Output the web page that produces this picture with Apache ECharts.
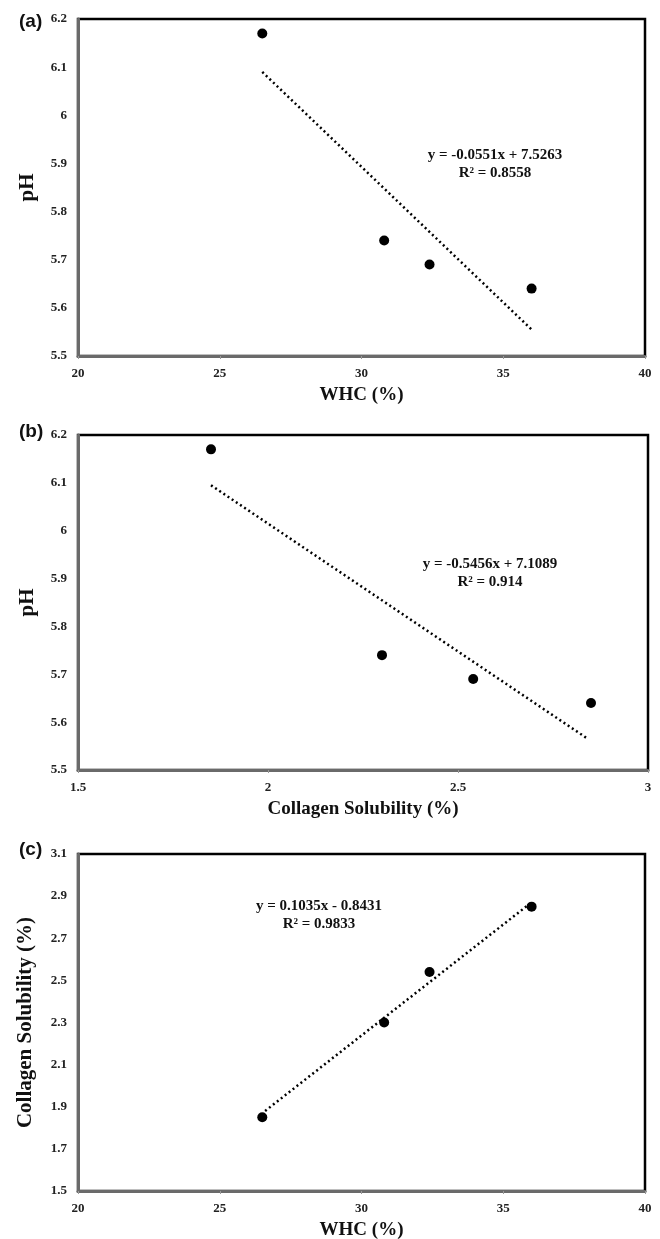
<!DOCTYPE html>
<html>
<head>
<meta charset="utf-8">
<script src="https://cdn.jsdelivr.net/npm/echarts@6/dist/echarts.min.js"></script>
<style>
  html, body { margin: 0; padding: 0; background: #fff; }
  #main { width: 660px; height: 1239px; }
</style>
</head>
<body>
<div id="main"></div>
<script>
// (a) pH vs WHC
const whc = [26.5, 30.8, 32.4, 36.0];
const phA = [6.17, 5.74, 5.69, 5.64];
const trendA = [[26.5, 6.09], [36.0, 5.555]];

// (b) pH vs collagen solubility
const solB = [1.85, 2.30, 2.54, 2.85];
const phB = [6.17, 5.74, 5.69, 5.64];
const trendB = [[1.85, 6.095], [2.84, 5.566]];

// (c) collagen solubility vs WHC
const whcC = [26.5, 30.8, 32.4, 36.0];
const solC = [1.85, 2.30, 2.54, 2.85];
const trendC = [[26.6, 1.88], [35.9, 2.86]];

const eqA = ['y = -0.0551x + 7.5263', 'R² = 0.8558'];
const eqB = ['y = -0.5456x + 7.1089', 'R² = 0.914'];
const eqC = ['y = 0.1035x - 0.8431', 'R² = 0.9833'];

const serif = 'Liberation Serif';
const zip = (xs, ys) => xs.map((x, i) => [x, ys[i]]);

function xAxis(idx, min, max, interval, name) {
  return {
    type: 'value', gridIndex: idx, min, max, interval, name,
    nameLocation: 'middle', nameGap: 30,
    nameTextStyle: { fontFamily: serif, fontWeight: 'bold', fontSize: 19, color: '#111' },
    axisLine: { show: true, lineStyle: { color: '#6a6a6a', width: 3 } },
    axisTick: { show: true, length: 3, lineStyle: { color: '#999' } },
    axisLabel: { fontFamily: serif, fontWeight: 'bold', fontSize: 13, color: '#222', margin: 11 },
    splitLine: { show: false }
  };
}
function yAxis(idx, min, max, interval, name, gap) {
  return {
    type: 'value', gridIndex: idx, min, max, interval, name,
    nameLocation: 'middle', nameGap: gap,
    nameTextStyle: { fontFamily: serif, fontWeight: 'bold', fontSize: 21, color: '#111' },
    axisLine: { show: true, lineStyle: { color: '#6a6a6a', width: 3 } },
    axisTick: { show: false },
    axisLabel: { fontFamily: serif, fontWeight: 'bold', fontSize: 13, color: '#222', margin: 11 },
    splitLine: { show: false }
  };
}
function pts(idx, data) {
  return {
    type: 'scatter', xAxisIndex: idx, yAxisIndex: idx, data,
    symbolSize: 10, itemStyle: { color: '#000', opacity: 1 }, z: 5
  };
}
function trend(idx, data) {
  return {
    type: 'line', xAxisIndex: idx, yAxisIndex: idx, data,
    showSymbol: false, silent: true,
    lineStyle: { color: '#000', width: 2.5, type: [2, 3] }
  };
}
function eqText(lines, x, y) {
  return {
    type: 'text', x, y,
    style: {
      text: lines.join('\n'), align: 'center', lineHeight: 18,
      font: 'bold 15px "Liberation Serif"', fill: '#111'
    }
  };
}
function panelLabel(t, x, y) {
  return {
    type: 'text', x, y,
    style: { text: t, font: 'bold 19px "Liberation Sans"', fill: '#111' }
  };
}

const gridBase = { left: 78, show: true, borderColor: '#000', borderWidth: 2.5, outerBoundsMode: 'none', containLabel: false };

const chart = echarts.init(document.getElementById('main'));
chart.setOption({
  animation: false,
  grid: [
    Object.assign({}, gridBase, { top: 19, width: 567, height: 337 }),
    Object.assign({}, gridBase, { top: 435, width: 570, height: 335 }),
    Object.assign({}, gridBase, { top: 854, width: 567, height: 337 })
  ],
  xAxis: [
    xAxis(0, 20, 40, 5, 'WHC (%)'),
    xAxis(1, 1.5, 3, 0.5, 'Collagen Solubility (%)'),
    xAxis(2, 20, 40, 5, 'WHC (%)')
  ],
  yAxis: [
    yAxis(0, 5.5, 6.2, 0.1, 'pH', 40),
    yAxis(1, 5.5, 6.2, 0.1, 'pH', 40),
    yAxis(2, 1.5, 3.1, 0.2, 'Collagen Solubility (%)', 42)
  ],
  series: [
    pts(0, zip(whc, phA)), trend(0, trendA),
    pts(1, zip(solB, phB)), trend(1, trendB),
    pts(2, zip(whcC, solC)), trend(2, trendC)
  ],
  graphic: [
    panelLabel('(a)', 19, 12),
    panelLabel('(b)', 19, 422),
    panelLabel('(c)', 19, 840),
    eqText(eqA, 495, 146),
    eqText(eqB, 490, 555),
    eqText(eqC, 319, 897)
  ]
});
</script>
</body>
</html>
